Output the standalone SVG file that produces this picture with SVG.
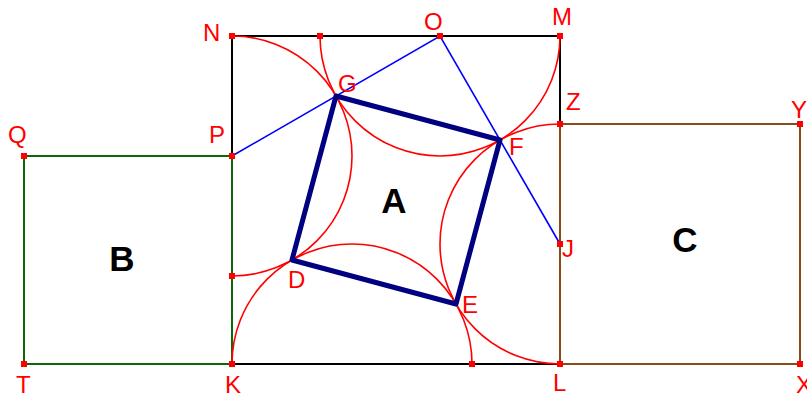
<svg xmlns="http://www.w3.org/2000/svg" width="807" height="396" viewBox="0 0 807 396">
<style>
.lbl{font-family:"Liberation Sans",Arial,sans-serif;font-size:24px;fill:#ff0000}
.big{font-family:"Liberation Sans",Arial,sans-serif;font-size:35px;font-weight:bold;fill:#000;text-anchor:middle}
.arc{fill:none;stroke:#ff0000;stroke-width:1.6}
.pt{fill:#ff0000}
</style>
<defs>
<rect id="m" x="-3" y="-3" width="6" height="6" class="pt"/>
</defs>
<rect width="807" height="396" fill="#fff"/>
<g id="squareA-outer">
<polyline points="232,156 232,36 560,36 560,124" fill="none" stroke="#000" stroke-width="2"/>
<line x1="232" y1="364" x2="560" y2="364" stroke="#000" stroke-width="2"/>
</g>
<g id="squareB">
<rect x="24" y="156" width="208" height="208" fill="none" stroke="#0a6a0a" stroke-width="2"/>
<text class="big" x="122" y="271">B</text>
</g>
<g id="squareC">
<rect x="560" y="124" width="240" height="240" fill="none" stroke="#8b4a1a" stroke-width="2"/>
<text class="big" x="685" y="252">C</text>
</g>
<g id="connectors">
<path class="arc" d="M232,36 A120,120 0 0 1 232,276"/>
<path class="arc" d="M320,36 A120,120 0 0 0 560,36"/>
<path class="arc" d="M560,124 A120,120 0 0 0 560,364"/>
<path class="arc" d="M232,364 A120,120 0 0 1 472,364"/>
<polyline points="232,156 440,36 560,244" fill="none" stroke="#0000ff" stroke-width="1.6"/>
</g>
<g id="squareA-inner">
<polygon points="336,96 500,140 456,304 292,260" fill="none" stroke="#000080" stroke-width="5" stroke-linejoin="round"/>
<text class="big" x="394" y="213">A</text>
</g>
<g id="markers">
<use href="#m" x="232" y="36"/>
<use href="#m" x="320" y="36"/>
<use href="#m" x="440" y="36"/>
<use href="#m" x="560" y="36"/>
<use href="#m" x="560" y="124"/>
<use href="#m" x="800" y="124"/>
<use href="#m" x="24" y="156"/>
<use href="#m" x="232" y="156"/>
<use href="#m" x="232" y="276"/>
<use href="#m" x="560" y="244"/>
<use href="#m" x="24" y="364"/>
<use href="#m" x="232" y="364"/>
<use href="#m" x="472" y="364"/>
<use href="#m" x="560" y="364"/>
<use href="#m" x="800" y="364"/>
</g>
<g id="labels">
<text class="lbl" x="203" y="41">N</text>
<text class="lbl" x="424" y="30">O</text>
<text class="lbl" x="552" y="25">M</text>
<text class="lbl" x="566" y="110">Z</text>
<text class="lbl" x="791" y="118">Y</text>
<text class="lbl" x="8" y="143">Q</text>
<text class="lbl" x="209" y="143">P</text>
<text class="lbl" x="338" y="92">G</text>
<text class="lbl" x="509" y="155">F</text>
<text class="lbl" x="562" y="257">J</text>
<text class="lbl" x="462" y="313">E</text>
<text class="lbl" x="288" y="288">D</text>
<text class="lbl" x="16" y="393">T</text>
<text class="lbl" x="225" y="393">K</text>
<text class="lbl" x="553" y="391">L</text>
<text class="lbl" x="796" y="393">X</text>
</g>
</svg>
